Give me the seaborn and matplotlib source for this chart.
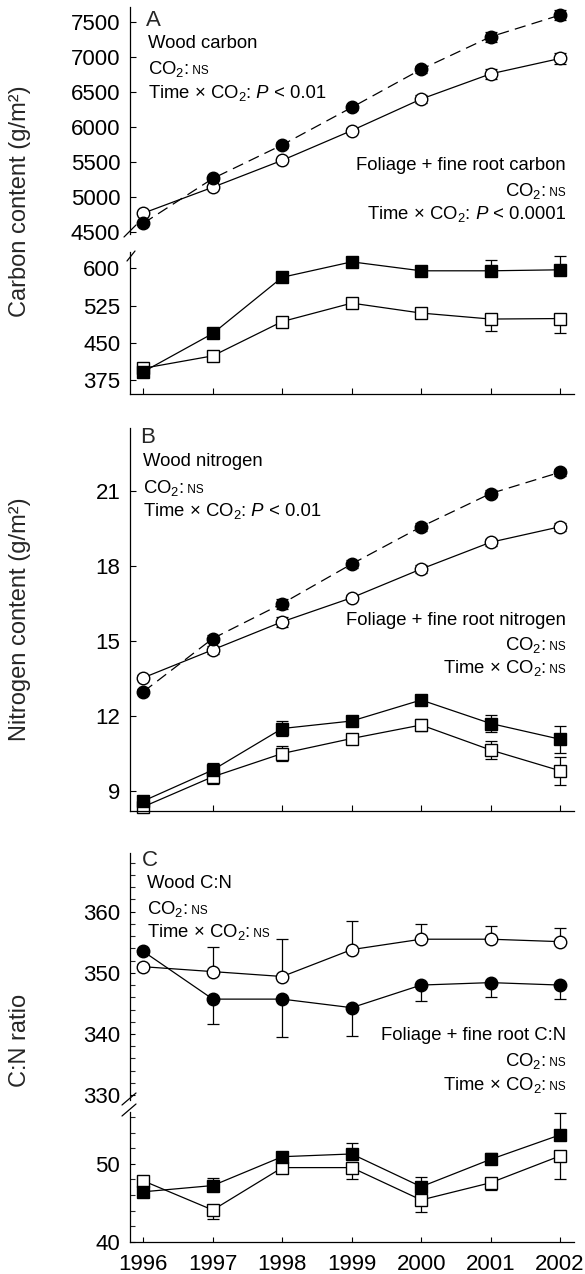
import matplotlib
matplotlib.use('Agg')
import matplotlib.pyplot as plt
import numpy as np
import pandas as pd
import seaborn as sns
from matplotlib.offsetbox import TextArea, HPacker, AnchoredOffsetbox
from matplotlib.lines import Line2D
from matplotlib.ticker import MultipleLocator

# ---------------- data ----------------
years = [1996, 1997, 1998, 1999, 2000, 2001, 2002]

# Panel A: carbon content (g/m2)
wood_c_elev = [4620, 5260, 5740, 6275, 6820, 7285, 7595]
wood_c_elev_err = [30, 40, 40, 40, 50, 70, 75]
wood_c_amb = [4765, 5135, 5520, 5945, 6395, 6755, 6975]
wood_c_amb_err = [30, 30, 30, 40, 60, 70, 80]
fol_c_elev = [392, 469, 582, 613, 595, 595, 597]
fol_c_elev_err = [6, 6, 6, 6, 6, 22, 27]
fol_c_amb = [399, 424, 493, 530, 510, 498, 499]
fol_c_amb_err = [6, 6, 6, 6, 6, 24, 29]

# Panel B: nitrogen content (g/m2)
wood_n_elev = [12.97, 15.1, 16.5, 18.08, 19.57, 20.9, 21.75]
wood_n_elev_err = [0.1, 0.15, 0.2, 0.15, 0.15, 0.15, 0.15]
wood_n_amb = [13.53, 14.65, 15.77, 16.73, 17.88, 18.95, 19.57]
wood_n_amb_err = [0.1, 0.15, 0.2, 0.1, 0.15, 0.15, 0.15]
fol_n_elev = [8.6, 9.84, 11.5, 11.8, 12.64, 11.7, 11.07]
fol_n_elev_err = [0.15, 0.29, 0.29, 0.1, 0.2, 0.33, 0.55]
fol_n_amb = [8.37, 9.57, 10.5, 11.1, 11.64, 10.64, 9.81]
fol_n_amb_err = [0.1, 0.27, 0.3, 0.1, 0.23, 0.35, 0.55]

# Panel C: C:N ratio
wood_cn_elev = [353.5, 345.7, 345.7, 344.3, 348.0, 348.4, 348.0]
wood_cn_elev_err = [0.5, 4.1, 6.2, 4.7, 2.6, 2.3, 2.3]
wood_cn_amb = [351.0, 350.2, 349.4, 353.8, 355.5, 355.5, 355.1]
wood_cn_amb_err = [0.5, 4.1, 6.1, 4.6, 2.5, 2.2, 2.3]
fol_cn_elev = [46.4, 47.2, 50.9, 51.25, 47.05, 50.56, 53.7]
fol_cn_elev_err = [0.3, 1.0, 0.4, 1.35, 1.3, 0.85, 2.8]
fol_cn_amb = [47.8, 44.06, 49.5, 49.5, 45.35, 47.56, 51.0]
fol_cn_amb_err = [0.3, 1.15, 0.7, 1.5, 1.5, 0.95, 3.0]

yticks_a_up = [4500, 5000, 5500, 6000, 6500, 7000, 7500]
yticks_a_lo = [375, 450, 525, 600]
yticks_b = [9, 12, 15, 18, 21]
yticks_c_up = [330, 340, 350, 360]
yticks_c_lo = [40, 50]

# ---------------- style ----------------
sns.set_style('ticks')
plt.rcParams['font.family'] = ['Liberation Sans', 'DejaVu Sans']
plt.rcParams['mathtext.fontset'] = 'custom'
plt.rcParams['mathtext.rm'] = 'Liberation Sans'
plt.rcParams['mathtext.it'] = 'Liberation Sans:italic'
plt.rcParams['mathtext.bf'] = 'Liberation Sans:bold'

W, H = 585, 1274
fig = plt.figure(figsize=(W / 100, H / 100), dpi=100)
fig.patch.set_facecolor('white')

X0, X1 = 130, 574
XLIM = (1995.808, 2002.2)
TICK_FS = 16
TXT_FS = 13.3
NS_FS = 8.5


def px_ax(top, bottom):
    return fig.add_axes([X0 / W, 1 - bottom / H, (X1 - X0) / W, (bottom - top) / H])


def style(ax, ylim, yticks, show_x, xlabels=False, tlen=4.3, minor=None):
    ax.set_xlim(*XLIM)
    ax.set_ylim(*ylim)
    ax.set_yticks(yticks)
    if minor:
        ax.yaxis.set_minor_locator(MultipleLocator(minor))
        ax.tick_params(axis='y', which='minor', direction='in', length=tlen, width=0.8)
    for s in ['top', 'right']:
        ax.spines[s].set_visible(False)
    ax.spines['left'].set_linewidth(0.9)
    ax.spines['left'].set_color('black')
    if show_x:
        ax.spines['bottom'].set_linewidth(0.9)
        ax.spines['bottom'].set_color('black')
        ax.set_xticks(years)
        ax.tick_params(axis='x', direction='in', length=tlen, width=0.8,
                       labelbottom=xlabels, labelsize=TICK_FS, pad=9, colors='black')
    else:
        ax.spines['bottom'].set_visible(False)
        ax.tick_params(axis='x', bottom=False, labelbottom=False)
    ax.tick_params(axis='y', which='major', direction='in', length=tlen, width=0.8,
                   labelsize=TICK_FS, pad=7, colors='black')
    ax.set_xlabel('')
    ax.set_ylabel('')
    ax.patch.set_alpha(0)


def series(ax, vals, marker, filled, ms, err=None, side='both', dashed=False):
    df = pd.DataFrame({'year': years, 'value': vals})
    if err is not None:
        zeros = [0] * len(err)
        if side == 'up':
            yerr = [zeros, err]
        elif side == 'down':
            yerr = [err, zeros]
        else:
            yerr = [err, err]
        ax.errorbar(df['year'], df['value'], yerr=yerr, fmt='none', ecolor='black',
                    elinewidth=0.9, capsize=4, capthick=0.9, zorder=1.5, clip_on=False)
    kws = dict(marker=marker, markersize=ms, markeredgewidth=1.0,
               markeredgecolor='black', markerfacecolor='black' if filled else 'white',
               color='black', linewidth=0.9)
    if dashed:
        kws['linestyle'] = (0, (9, 5))
    n0 = len(ax.lines)
    sns.lineplot(data=df, x='year', y='value', ax=ax, errorbar=None, **kws)
    for ln in ax.lines[n0:]:
        ln.set_clip_on(False)
        ln.set_zorder(2.5)


def text_line(x, y, pieces, ha='left'):
    children = []
    for s, fs, st in pieces:
        children.append(TextArea(s, textprops=dict(fontsize=fs, fontstyle=st, color='black')))
    box = HPacker(children=children, align='baseline', pad=0, sep=0)
    loc = 'center left' if ha == 'left' else 'center right'
    ab = AnchoredOffsetbox(loc=loc, child=box, pad=0, borderpad=0, frameon=False,
                           bbox_to_anchor=(x / W, 1 - y / H), bbox_transform=fig.transFigure)
    fig.add_artist(ab)


def brk(xc, yc, dx=6, dy=6):
    fig.add_artist(Line2D([(xc - dx) / W, (xc + dx) / W], [1 - (yc + dy) / H, 1 - (yc - dy) / H],
                          transform=fig.transFigure, color='black', lw=0.9))


CO2 = r'CO$_2$:'
TIME = r'Time × CO$_2$:'

# ---------------- Panel A ----------------
axA1 = px_ax(7, 234)
series(axA1, wood_c_amb, 'o', False, 9, wood_c_amb_err)
series(axA1, wood_c_elev, 'o', True, 9, wood_c_elev_err, dashed=True)
style(axA1, (4467, 7710), yticks_a_up, False)

axA2 = px_ax(252, 394)
series(axA2, fol_c_amb, 's', False, 8, fol_c_amb_err, side='down')
series(axA2, fol_c_elev, 's', True, 8, fol_c_elev_err, side='up')
style(axA2, (347.3, 632.8), yticks_a_lo, True)

brk(130, 231)
brk(131, 256, dx=4, dy=5)

fig.text(146 / W, 1 - 20 / H, 'A', fontsize=16, ha='left', va='center')
text_line(148, 43, [('Wood carbon', TXT_FS, 'normal')])
text_line(148, 69, [(CO2, TXT_FS, 'normal'), (' NS', NS_FS, 'normal')])
text_line(148, 93, [(TIME, TXT_FS, 'normal'), (' P', TXT_FS, 'italic'), (' < 0.01', TXT_FS, 'normal')])
text_line(566, 165, [('Foliage + fine root carbon', TXT_FS, 'normal')], ha='right')
text_line(566, 191, [(CO2, TXT_FS, 'normal'), (' NS', NS_FS, 'normal')], ha='right')
text_line(566, 214, [(TIME, TXT_FS, 'normal'), (' P', TXT_FS, 'italic'), (' < 0.0001', TXT_FS, 'normal')], ha='right')
fig.text(20 / W, 1 - 201 / H, 'Carbon content (g/m²)', rotation=90, ha='center', va='center', fontsize=17)

# ---------------- Panel B ----------------
axB = px_ax(428, 811)
series(axB, wood_n_amb, 'o', False, 9, wood_n_amb_err)
series(axB, wood_n_elev, 'o', True, 9, wood_n_elev_err, dashed=True)
series(axB, fol_n_amb, 's', False, 8, fol_n_amb_err)
series(axB, fol_n_elev, 's', True, 8, fol_n_elev_err)
style(axB, (8.2, 23.52), yticks_b, True)

fig.text(140 / W, 1 - 437 / H, 'B', fontsize=16, ha='left', va='center')
text_line(143, 461, [('Wood nitrogen', TXT_FS, 'normal')])
text_line(143, 488, [(CO2, TXT_FS, 'normal'), (' NS', NS_FS, 'normal')])
text_line(143, 511, [(TIME, TXT_FS, 'normal'), (' P', TXT_FS, 'italic'), (' < 0.01', TXT_FS, 'normal')])
text_line(566, 620, [('Foliage + fine root nitrogen', TXT_FS, 'normal')], ha='right')
text_line(566, 645, [(CO2, TXT_FS, 'normal'), (' NS', NS_FS, 'normal')], ha='right')
text_line(566, 668, [(TIME, TXT_FS, 'normal'), (' NS', NS_FS, 'normal')], ha='right')
fig.text(20 / W, 1 - 619 / H, 'Nitrogen content (g/m²)', rotation=90, ha='center', va='center', fontsize=17)

# ---------------- Panel C ----------------
axC1 = px_ax(853, 1100)
series(axC1, wood_cn_amb, 'o', False, 9, wood_cn_amb_err, side='up')
series(axC1, wood_cn_elev, 'o', True, 9, wood_cn_elev_err, side='down')
style(axC1, (329.2, 369.6), yticks_c_up, False, tlen=3.6, minor=2)

axC2 = px_ax(1112, 1241.7)
series(axC2, fol_cn_amb, 's', False, 8, fol_cn_amb_err, side='down')
series(axC2, fol_cn_elev, 's', True, 8, fol_cn_elev_err, side='up')
style(axC2, (40, 56.63), yticks_c_lo, True, xlabels=True, tlen=3.6, minor=2)

brk(129, 1099, dx=7, dy=6)
brk(129, 1110, dx=7, dy=6)

fig.text(142 / W, 1 - 861 / H, 'C', fontsize=16, ha='left', va='center')
text_line(147, 883, [('Wood C:N', TXT_FS, 'normal')])
text_line(147, 909, [(CO2, TXT_FS, 'normal'), (' NS', NS_FS, 'normal')])
text_line(147, 932, [(TIME, TXT_FS, 'normal'), (' NS', NS_FS, 'normal')])
text_line(566, 1035, [('Foliage + fine root C:N', TXT_FS, 'normal')], ha='right')
text_line(566, 1061, [(CO2, TXT_FS, 'normal'), (' NS', NS_FS, 'normal')], ha='right')
text_line(566, 1085, [(TIME, TXT_FS, 'normal'), (' NS', NS_FS, 'normal')], ha='right')
fig.text(20 / W, 1 - 1040 / H, 'C:N ratio', rotation=90, ha='center', va='center', fontsize=17)

fig.savefig('out.png', dpi=100, facecolor='white')
